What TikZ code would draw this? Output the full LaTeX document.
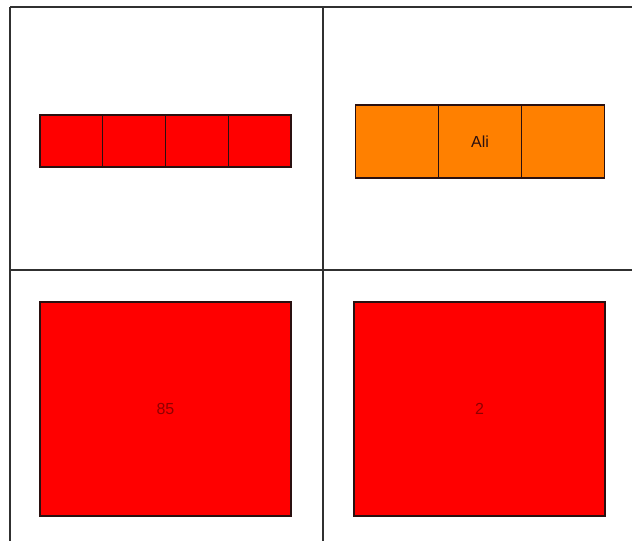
\documentclass[tikz,border=0pt]{standalone}
\usepackage{fontspec}
\setmainfont{Liberation Sans}
\definecolor{boxred}{HTML}{FF0000}
\definecolor{boxorange}{HTML}{FF8000}
\definecolor{edge}{HTML}{2A1010}
\definecolor{gridline}{HTML}{303030}
\definecolor{dimtext}{HTML}{900000}
\begin{document}
\begin{tikzpicture}[x=0.75pt,y=-0.75pt,
  cell/.style={draw=edge,line width=1pt,rectangle,inner sep=0pt,outer sep=0pt,
    font=\fontsize{12}{14}\selectfont},
  redcell/.style={cell,fill=boxred,minimum width=62.75*0.75pt,minimum height=52*0.75pt},
  orangecell/.style={cell,fill=boxorange,minimum width=83*0.75pt,minimum height=73*0.75pt,text=edge},
  bigbox/.style={cell,fill=boxred,minimum width=251*0.75pt,minimum height=214*0.75pt,text=dimtext},
  grid/.style={draw=gridline,line width=1.3pt}]
\useasboundingbox (0,0) rectangle (632,541);
\fill[white] (0,0) rectangle (632,541);
% table lines
\coordinate (tl) at (10,7);
\coordinate (tm) at (323,7);
\coordinate (tr) at (632,7);
\coordinate (ml) at (10,270);
\coordinate (mr) at (632,270);
\coordinate (bl) at (10,541);
\coordinate (bm) at (323,541);
\draw[grid] (tl) -- (tr);
\draw[grid] (ml) -- (mr);
\draw[grid] (tl) -- (bl);
\draw[grid] (tm) -- (bm);
% red strip
\node[redcell] (r1) at (71.375,141) {};
\node[redcell] (r2) at (134.125,141) {};
\node[redcell] (r3) at (196.875,141) {};
\node[redcell] (r4) at (259.625,141) {};
% orange strip
\node[orangecell] (o1) at (397,141.5) {};
\node[orangecell] (o2) at (480,141.5) {Ali};
\node[orangecell] (o3) at (563,141.5) {};
% big boxes
\node[bigbox] (b1) at (165.5,409) {85};
\node[bigbox] (b2) at (479.5,409) {2};
\end{tikzpicture}
\end{document}
